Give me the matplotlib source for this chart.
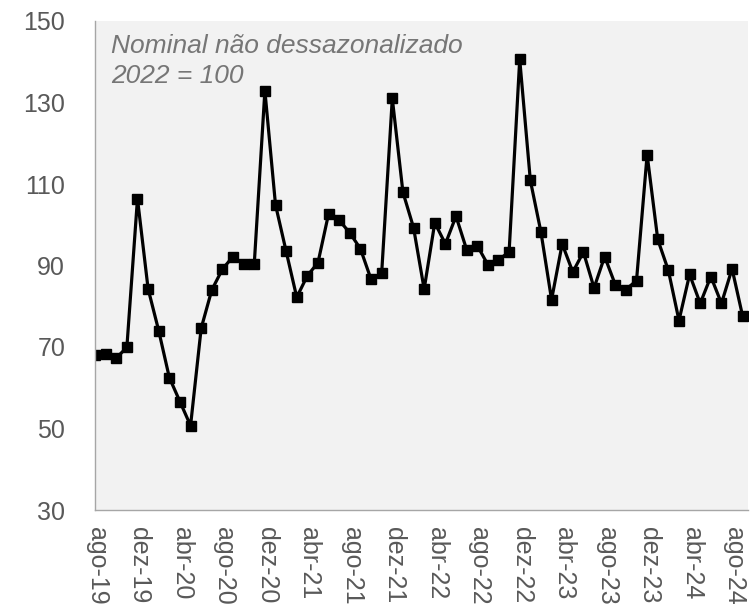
import matplotlib.pyplot as plt
import matplotlib.transforms as mtransforms

# --- dados (ago-19 a set-24, mensal, 2022 = 100) ---
months = ["jan", "fev", "mar", "abr", "mai", "jun",
          "jul", "ago", "set", "out", "nov", "dez"]

index_values = [
    68.0, 68.2, 67.3, 69.9, 106.4,                         # ago-19 .. dez-19
    84.3, 74.0, 62.5, 56.6, 50.7, 74.6, 84.0, 89.1, 92.2, 90.4, 90.4, 132.9,   # 2020
    104.9, 93.5, 82.2, 87.5, 90.7, 102.7, 101.1, 98.0, 94.1, 86.6, 88.2, 131.0,  # 2021
    108.0, 99.3, 84.2, 100.5, 95.3, 102.1, 93.9, 94.9, 90.2, 91.4, 93.3, 140.6,  # 2022
    110.9, 98.2, 81.6, 95.3, 88.4, 93.3, 84.5, 92.2, 85.3, 84.1, 86.3, 117.2,   # 2023
    96.4, 88.8, 76.5, 87.8, 80.7, 87.3, 80.7, 89.2, 77.5,                        # jan-24 .. set-24
]

# rótulos mensais a partir de ago-19
labels = []
m, y = 7, 19
for _ in index_values:
    labels.append(f"{months[m]}-{y}")
    m += 1
    if m == 12:
        m, y = 0, y + 1

x = list(range(len(index_values)))
tick_pos = x[::4]
tick_lab = labels[::4]

GREY_TXT = "#595959"

plt.rcParams["font.family"] = ["Liberation Sans", "DejaVu Sans"]

fig = plt.figure(figsize=(7.51, 6.09), dpi=100)
ax = fig.add_axes([95 / 751, 1 - 510 / 609, (748 - 95) / 751, (510 - 21) / 609])
ax.set_facecolor("#f2f2f2")

ax.plot(x, index_values, color="black", linewidth=2.3,
        marker="s", markersize=7.5, markerfacecolor="black", markeredgecolor="black")

ax.set_xlim(0.467, 61.5)
ax.set_ylim(30, 150)
ax.set_yticks(range(30, 151, 20))
ax.set_xticks(tick_pos)
ax.set_xticklabels(tick_lab, rotation=-90, ha="center", va="top")

ax.tick_params(axis="y", length=0, pad=21.5, labelsize=18, labelcolor=GREY_TXT)
ax.tick_params(axis="x", length=0, pad=12, labelsize=18, labelcolor=GREY_TXT)

# deslocar rótulos rotacionados um pouco à direita (como no Excel)
offset = mtransforms.ScaledTranslation(2 / 100, 0, fig.dpi_scale_trans)
for lab in ax.get_xticklabels():
    lab.set_transform(lab.get_transform() + offset)

for side in ["top", "right"]:
    ax.spines[side].set_visible(False)
for side in ["left", "bottom"]:
    ax.spines[side].set_color("#a6a6a6")
    ax.spines[side].set_linewidth(1.0)

# nota no canto superior
ax.text(0.0245, 0.9346, "Nominal não dessazonalizado", transform=ax.transAxes,
        ha="left", va="baseline", fontsize=19, fontstyle="italic", color="#767676")
ax.text(0.0245, 0.8732, "2022 = 100", transform=ax.transAxes,
        ha="left", va="baseline", fontsize=19, fontstyle="italic", color="#767676")

fig.savefig("out.png", dpi=100)
